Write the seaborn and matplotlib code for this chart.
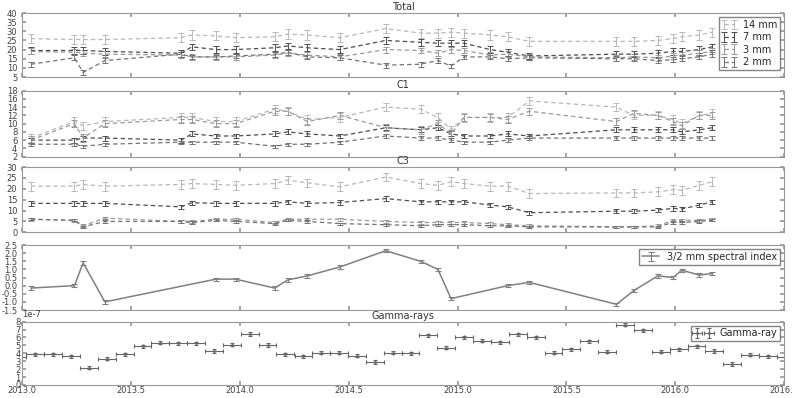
import numpy as np
import pandas as pd
import matplotlib
matplotlib.use("Agg")
import matplotlib.pyplot as plt
import seaborn as sns

# observing epochs (decimal year) for the radio / mm light curves
epochs = [2013.04, 2013.24, 2013.28, 2013.38, 2013.73, 2013.78, 2013.89, 2013.98,
          2014.16, 2014.22, 2014.31, 2014.46, 2014.67, 2014.83, 2014.91, 2014.97,
          2015.03, 2015.15, 2015.23, 2015.33, 2015.73, 2015.81, 2015.92, 2015.99,
          2016.03, 2016.11, 2016.17]
bands = ["14 mm", "7 mm", "3 mm", "2 mm"]

total_14 = [26, 25.5, 25.5, 25.5, 26.5, 28, 27.5, 26.5, 27, 28.5, 28, 26.5, 31.5, 29,
            29, 29.5, 29, 28, 27, 24.5, 24.5, 24.5, 25, 26, 27, 28, 29.5]
total_7 = [19.5, 19.5, 19.5, 19, 18, 21.5, 20, 20, 21, 22, 21, 20, 25, 24, 23.5, 23.5,
           23.5, 20, 18.5, 16.5, 17.5, 17.5, 18, 19, 19, 20, 21.5]
total_3 = [19, 18.5, 18, 17.5, 17, 16, 16, 16, 17, 18, 17, 16, 20, 19.5, 18, 20, 19.5,
           17, 17.5, 16, 15.5, 16, 15.5, 16.5, 17, 18, 19]
total_2 = [12, 15.5, 7.5, 14, 17.5, 16, 16, 16.5, 17.5, 18.5, 16, 15.5, 11.5, 12, 14,
           11, 16, 16, 15, 15.5, 15, 15, 14, 14.5, 15, 16, 17.5]

c1_14 = [6.5, 10.5, 9.5, 10.5, 11.5, 11.5, 10.5, 10.5, 13.5, 13, 11, 11.5, 14, 13.5,
         11.5, 8.5, 11.5, 11.5, 11.5, 15.5, 14, 12, 12, 11, 10, 12, 12.5]
c1_7 = [6, 6, 6.5, 6.5, 6, 7.5, 7, 7, 7.5, 8, 7.5, 7, 9, 8.5, 9, 7.5, 7, 7, 7.5, 7,
        8.5, 8.5, 8.5, 8.5, 8, 8.5, 9]
c1_3 = [6, 10, 6.5, 10, 11, 11, 10, 10, 13, 13, 10.5, 12, 9, 8.5, 10, 7.5, 11.5, 11.5,
        11, 13, 10.5, 12.5, 12, 10.5, 9.5, 12, 12]
c1_2 = [5, 5, 4.5, 5, 5.5, 5.5, 5.5, 5.5, 4.5, 5, 5, 5.5, 7, 6.5, 6.5, 6, 5.5, 5.5, 6,
        6.5, 6.5, 6.5, 6.5, 6.5, 6.5, 6.5, 6.5]

c3_14 = [21.2, 21.2, 22, 21.2, 22, 22.4, 22, 21.6, 22.4, 24, 22.7, 20.9, 25.4, 22.4,
         21.6, 23.2, 22.4, 21.2, 21.2, 17.8, 18.1, 18.1, 18.6, 19.6, 19.3, 21.6, 23.2]
c3_7 = [13.3, 13.3, 13.3, 13.3, 11.7, 13.6, 13.3, 13.3, 13.3, 14, 13.3, 13.7, 15.5, 14,
        14, 14, 14, 12.5, 11.7, 9, 9.7, 9.7, 10.2, 11, 10.7, 12.5, 14]
c3_3 = [6, 5.5, 3, 6.5, 5, 5, 6, 6, 4.5, 6, 6, 6, 5, 4.5, 4.5, 4.5, 4.5, 4, 3.5, 3,
        2.5, 2.5, 3, 5.5, 5.5, 5.5, 6]
c3_2 = [6, 5.5, 2.5, 5, 5, 4.5, 5.5, 5, 4, 5.5, 5, 4, 3.5, 3, 3.5, 3.5, 3.5, 3, 3,
        2.5, 2.5, 2.5, 2.5, 4.5, 4.5, 5, 5.5]

# 3/2 mm spectral index (nan = no 2 mm point at that epoch)
spec_index = [-0.15, 0.0, 1.4, -1.0, 0.4, 0.4, np.nan, np.nan, -0.15, 0.35, 0.6, 1.15,
              2.15, 1.5, 1.0, -0.8, np.nan, np.nan, 0.0, 0.2, -1.15, -0.3, 0.6, 0.5,
              0.95, 0.65, 0.75]
spec_times = [2013.04, 2013.24, 2013.28, 2013.38, 2013.89, 2013.98, np.nan, np.nan,
              2014.16, 2014.22, 2014.31, 2014.46, 2014.67, 2014.83, 2014.91, 2014.97,
              np.nan, np.nan, 2015.23, 2015.33, 2015.73, 2015.81, 2015.92, 2015.99,
              2016.03, 2016.11, 2016.17]

# monthly (30 d) gamma-ray fluxes, units of 1e-7
gamma_t = [2012.978, 2013.060, 2013.142, 2013.224, 2013.306, 2013.388, 2013.471,
           2013.553, 2013.635, 2013.717, 2013.799, 2013.881, 2013.963, 2014.045,
           2014.127, 2014.209, 2014.292, 2014.374, 2014.456, 2014.538, 2014.620,
           2014.702, 2014.784, 2014.866, 2014.948, 2015.030, 2015.112, 2015.195,
           2015.277, 2015.359, 2015.441, 2015.523, 2015.605, 2015.687, 2015.769,
           2015.851, 2015.933, 2016.016, 2016.098, 2016.180, 2016.262, 2016.344,
           2016.426, 2016.508]
gamma_f = [3.5, 3.9, 3.9, 3.6, 2.2, 3.3, 3.9, 4.9, 5.35, 5.25, 5.25, 4.3, 5.1, 6.45,
           5.05, 3.9, 3.6, 4.1, 4.1, 3.7, 2.9, 4.1, 4.0, 6.3, 4.7, 6.0, 5.6, 5.4, 6.4,
           6.0, 4.1, 4.5, 5.5, 4.2, 7.6, 6.9, 4.2, 4.5, 4.9, 4.3, 2.65, 3.8, 3.65, 3.5]

band_color = {"14 mm": "0.72", "7 mm": "0.3", "3 mm": "0.6", "2 mm": "0.45"}
band_err = {"14 mm": 2.5, "7 mm": 1.8, "3 mm": 1.6, "2 mm": 1.3}
band_err_c1 = {"14 mm": 1.0, "7 mm": 0.6, "3 mm": 0.9, "2 mm": 0.4}
band_err_c3 = {"14 mm": 2.0, "7 mm": 1.0, "3 mm": 0.6, "2 mm": 0.5}

sns.set_theme(style="white", rc={"axes.edgecolor": "0.6", "axes.linewidth": 0.8,
                                 "xtick.direction": "in", "ytick.direction": "in",
                                 "xtick.top": True, "ytick.right": True,
                                 "xtick.bottom": True, "ytick.left": True,
                                 "xtick.major.size": 3, "ytick.major.size": 3,
                                 "xtick.color": "0.6", "ytick.color": "0.6",
                                 "xtick.labelcolor": "0.25", "ytick.labelcolor": "0.25",
                                 "xtick.labelsize": 6, "ytick.labelsize": 6,
                                 "legend.numpoints": 2})
plt.rcParams["font.family"] = ["DejaVu Sans"]
plt.rcParams["axes.unicode_minus"] = False

fig = plt.figure(figsize=(7.92, 3.98), dpi=100)
fig.patch.set_facecolor("white")
L, W = 0.028, 0.962
ax_tot = fig.add_axes([L, 0.8065, W, 0.1608])
ax_c1 = fig.add_axes([L, 0.6065, W, 0.1658], sharex=ax_tot)
ax_c3 = fig.add_axes([L, 0.4163, W, 0.1641], sharex=ax_tot)
ax_sp = fig.add_axes([L, 0.2211, W, 0.1633], sharex=ax_tot)
ax_g = fig.add_axes([L, 0.0327, W, 0.1591], sharex=ax_tot)


def band_panel(ax, series, errs, title, ylim, yticks, legend=False):
	df = pd.DataFrame({"t": epochs})
	for b, vals in zip(bands, series):
		df[b] = vals
		eb = ax.errorbar(df["t"], df[b], yerr=errs[b], fmt="--", color=band_color[b],
		                 lw=0.9, elinewidth=0.7, capsize=2, capthick=0.7, label=b)
		eb.lines[0].set_dashes((3.5, 2.5))
	ax.set_title(title, fontsize=7, pad=2, color="0.2")
	ax.set_ylim(*ylim)
	ax.set_yticks(yticks)
	ax.tick_params(labelbottom=False)
	if legend:
		lg = ax.legend(loc="upper right", fontsize=7, frameon=True, fancybox=False,
		               handlelength=1.6, labelspacing=0.25, borderpad=0.3,
		               handletextpad=0.6, borderaxespad=0.4)
		lg.get_frame().set_edgecolor("0.4")


band_panel(ax_tot, [total_14, total_7, total_3, total_2], band_err, "Total",
           (5, 40), np.arange(5, 41, 5), legend=True)
band_panel(ax_c1, [c1_14, c1_7, c1_3, c1_2], band_err_c1, "C1",
           (2, 18), np.arange(2, 19, 2))
band_panel(ax_c3, [c3_14, c3_7, c3_3, c3_2], band_err_c3, "C3",
           (0, 30), np.arange(0, 31, 5))

sp = pd.DataFrame({"t": spec_times, "idx": spec_index}).dropna()
ax_sp.errorbar(sp["t"], sp["idx"], yerr=0.1, fmt="-", color="0.5", lw=1.1,
               elinewidth=0.8, capsize=2, capthick=0.8, label="3/2 mm spectral index")
ax_sp.set_ylim(-1.5, 2.5)
ax_sp.set_yticks(np.arange(-1.5, 2.6, 0.5))
ax_sp.tick_params(labelbottom=False)
lg = ax_sp.legend(loc="upper right", fontsize=7, fancybox=False, handlelength=1.8,
                  borderpad=0.3, borderaxespad=0.4, numpoints=1)
lg.get_frame().set_edgecolor("0.4")

gm = pd.DataFrame({"t": gamma_t, "f": np.array(gamma_f) * 1e-7})
ax_g.errorbar(gm["t"], gm["f"], xerr=0.041, yerr=0.2e-7, fmt="+", ms=3,
              color="0.4", elinewidth=0.8, capsize=1.5, capthick=0.8, label="Gamma-ray")
ax_g.set_title("Gamma-rays", fontsize=7, pad=2, color="0.2")
ax_g.set_ylim(0, 8e-7)
ax_g.set_yticks(np.arange(0, 9) * 1e-7)
ax_g.yaxis.get_offset_text().set_fontsize(6)
lg = ax_g.legend(loc="upper right", fontsize=7, fancybox=False, handlelength=1.8,
                 borderpad=0.3, borderaxespad=0.4)
lg.get_frame().set_edgecolor("0.4")

ax_tot.set_xlim(2013.0, 2016.5)
ax_g.set_xticks(np.arange(2013.0, 2016.6, 0.5))
ax_g.xaxis.set_major_formatter(matplotlib.ticker.FormatStrFormatter("%.1f"))
ax_g.tick_params(labelbottom=True, pad=1)

fig.savefig("out.png", dpi=100, facecolor="white")
